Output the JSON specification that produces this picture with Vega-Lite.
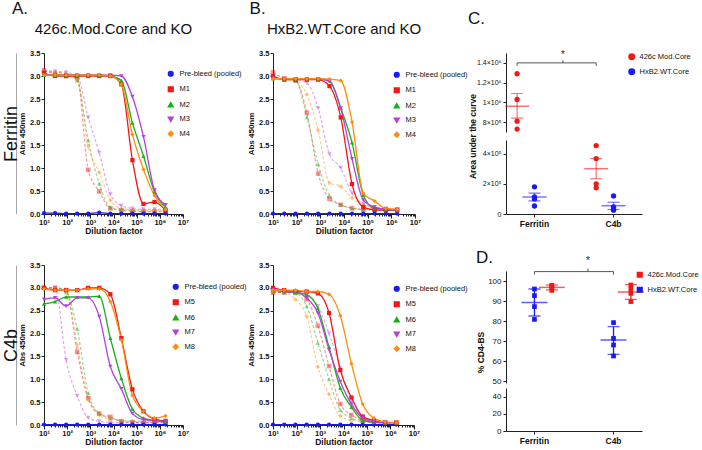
{
"$schema": "https://vega.github.io/schema/vega-lite/v6.json",
"padding": {"left": 2, "top": 0, "right": 0, "bottom": 0},
"background": "white",
"config": {
 "font": "Liberation Sans",
 "view": {"stroke": null},
 "axis": {"grid": false, "domainColor": "#222", "tickColor": "#222", "labelColor": "#111", "titleColor": "#111"},
 "title": {"fontWeight": "normal", "color": "#111", "font": "Liberation Sans"},
 "legend": {"labelColor": "#111", "labelFont": "Liberation Sans"}
},
"datasets": {
"curves": [
{"p":"AF","s":"P","k":0,"d":10,"v":0.02},{"p":"AF","s":"P","k":0,"d":30,"v":0.02},{"p":"AF","s":"P","k":0,"d":90,"v":0.01},{"p":"AF","s":"P","k":0,"d":270,"v":0.01},{"p":"AF","s":"P","k":0,"d":810,"v":0.01},{"p":"AF","s":"P","k":0,"d":2430,"v":0.03},{"p":"AF","s":"P","k":0,"d":7290,"v":0.01},{"p":"AF","s":"P","k":0,"d":21870,"v":0.01},{"p":"AF","s":"P","k":0,"d":65610,"v":0.01},{"p":"AF","s":"P","k":0,"d":196830,"v":0.01},{"p":"AF","s":"P","k":0,"d":590490,"v":0.01},{"p":"AF","s":"P","k":0,"d":1771470,"v":0.01},
{"p":"AF","s":"M1","k":0,"d":10,"v":3.07},{"p":"AF","s":"M1","k":0,"d":30,"v":3.0},{"p":"AF","s":"M1","k":0,"d":90,"v":3.0},{"p":"AF","s":"M1","k":0,"d":270,"v":3.0},{"p":"AF","s":"M1","k":0,"d":810,"v":3.0},{"p":"AF","s":"M1","k":0,"d":2430,"v":3.0},{"p":"AF","s":"M1","k":0,"d":7290,"v":3.0},{"p":"AF","s":"M1","k":0,"d":21870,"v":2.82},{"p":"AF","s":"M1","k":0,"d":65610,"v":1.17},{"p":"AF","s":"M1","k":0,"d":196830,"v":0.22},{"p":"AF","s":"M1","k":0,"d":590490,"v":0.26},{"p":"AF","s":"M1","k":0,"d":1771470,"v":0.08},
{"p":"AF","s":"M2","k":0,"d":10,"v":3.02},{"p":"AF","s":"M2","k":0,"d":30,"v":3.02},{"p":"AF","s":"M2","k":0,"d":90,"v":3.02},{"p":"AF","s":"M2","k":0,"d":270,"v":3.02},{"p":"AF","s":"M2","k":0,"d":810,"v":3.02},{"p":"AF","s":"M2","k":0,"d":2430,"v":3.02},{"p":"AF","s":"M2","k":0,"d":7290,"v":3.0},{"p":"AF","s":"M2","k":0,"d":21870,"v":2.9},{"p":"AF","s":"M2","k":0,"d":65610,"v":1.98},{"p":"AF","s":"M2","k":0,"d":196830,"v":1.26},{"p":"AF","s":"M2","k":0,"d":590490,"v":0.48},{"p":"AF","s":"M2","k":0,"d":1771470,"v":0.15},
{"p":"AF","s":"M3","k":0,"d":10,"v":3.02},{"p":"AF","s":"M3","k":0,"d":30,"v":3.02},{"p":"AF","s":"M3","k":0,"d":90,"v":3.02},{"p":"AF","s":"M3","k":0,"d":270,"v":3.02},{"p":"AF","s":"M3","k":0,"d":810,"v":3.02},{"p":"AF","s":"M3","k":0,"d":2430,"v":3.02},{"p":"AF","s":"M3","k":0,"d":7290,"v":3.02},{"p":"AF","s":"M3","k":0,"d":21870,"v":3.0},{"p":"AF","s":"M3","k":0,"d":65610,"v":2.55},{"p":"AF","s":"M3","k":0,"d":196830,"v":1.68},{"p":"AF","s":"M3","k":0,"d":590490,"v":0.52},{"p":"AF","s":"M3","k":0,"d":1771470,"v":0.2},
{"p":"AF","s":"M4","k":0,"d":10,"v":3.02},{"p":"AF","s":"M4","k":0,"d":30,"v":3.02},{"p":"AF","s":"M4","k":0,"d":90,"v":3.02},{"p":"AF","s":"M4","k":0,"d":270,"v":3.02},{"p":"AF","s":"M4","k":0,"d":810,"v":3.02},{"p":"AF","s":"M4","k":0,"d":2430,"v":3.02},{"p":"AF","s":"M4","k":0,"d":7290,"v":3.0},{"p":"AF","s":"M4","k":0,"d":21870,"v":2.82},{"p":"AF","s":"M4","k":0,"d":65610,"v":1.73},{"p":"AF","s":"M4","k":0,"d":196830,"v":0.97},{"p":"AF","s":"M4","k":0,"d":590490,"v":0.4},{"p":"AF","s":"M4","k":0,"d":1771470,"v":0.1},
{"p":"AF","s":"M1","k":1,"d":10,"v":3.12},{"p":"AF","s":"M1","k":1,"d":30,"v":3.05},{"p":"AF","s":"M1","k":1,"d":90,"v":3.0},{"p":"AF","s":"M1","k":1,"d":270,"v":2.95},{"p":"AF","s":"M1","k":1,"d":810,"v":0.96},{"p":"AF","s":"M1","k":1,"d":2430,"v":0.49},{"p":"AF","s":"M1","k":1,"d":7290,"v":0.12},{"p":"AF","s":"M1","k":1,"d":21870,"v":0.08},{"p":"AF","s":"M1","k":1,"d":65610,"v":0.06},{"p":"AF","s":"M1","k":1,"d":196830,"v":0.05},{"p":"AF","s":"M1","k":1,"d":590490,"v":0.05},{"p":"AF","s":"M1","k":1,"d":1771470,"v":0.05},
{"p":"AF","s":"M2","k":1,"d":10,"v":3.1},{"p":"AF","s":"M2","k":1,"d":30,"v":3.08},{"p":"AF","s":"M2","k":1,"d":90,"v":3.05},{"p":"AF","s":"M2","k":1,"d":270,"v":2.9},{"p":"AF","s":"M2","k":1,"d":810,"v":1.6},{"p":"AF","s":"M2","k":1,"d":2430,"v":0.66},{"p":"AF","s":"M2","k":1,"d":7290,"v":0.15},{"p":"AF","s":"M2","k":1,"d":21870,"v":0.1},{"p":"AF","s":"M2","k":1,"d":65610,"v":0.08},{"p":"AF","s":"M2","k":1,"d":196830,"v":0.06},{"p":"AF","s":"M2","k":1,"d":590490,"v":0.06},{"p":"AF","s":"M2","k":1,"d":1771470,"v":0.06},
{"p":"AF","s":"M3","k":1,"d":10,"v":3.12},{"p":"AF","s":"M3","k":1,"d":30,"v":3.1},{"p":"AF","s":"M3","k":1,"d":90,"v":3.08},{"p":"AF","s":"M3","k":1,"d":270,"v":3.0},{"p":"AF","s":"M3","k":1,"d":810,"v":2.1},{"p":"AF","s":"M3","k":1,"d":2430,"v":1.33},{"p":"AF","s":"M3","k":1,"d":7290,"v":0.43},{"p":"AF","s":"M3","k":1,"d":21870,"v":0.18},{"p":"AF","s":"M3","k":1,"d":65610,"v":0.12},{"p":"AF","s":"M3","k":1,"d":196830,"v":0.1},{"p":"AF","s":"M3","k":1,"d":590490,"v":0.1},{"p":"AF","s":"M3","k":1,"d":1771470,"v":0.1},
{"p":"AF","s":"M4","k":1,"d":10,"v":3.1},{"p":"AF","s":"M4","k":1,"d":30,"v":3.08},{"p":"AF","s":"M4","k":1,"d":90,"v":3.05},{"p":"AF","s":"M4","k":1,"d":270,"v":2.95},{"p":"AF","s":"M4","k":1,"d":810,"v":1.47},{"p":"AF","s":"M4","k":1,"d":2430,"v":0.9},{"p":"AF","s":"M4","k":1,"d":7290,"v":0.3},{"p":"AF","s":"M4","k":1,"d":21870,"v":0.12},{"p":"AF","s":"M4","k":1,"d":65610,"v":0.1},{"p":"AF","s":"M4","k":1,"d":196830,"v":0.08},{"p":"AF","s":"M4","k":1,"d":590490,"v":0.08},{"p":"AF","s":"M4","k":1,"d":1771470,"v":0.08},
{"p":"BF","s":"P","k":0,"d":10,"v":0.01},{"p":"BF","s":"P","k":0,"d":30,"v":0.01},{"p":"BF","s":"P","k":0,"d":90,"v":0.01},{"p":"BF","s":"P","k":0,"d":270,"v":0.01},{"p":"BF","s":"P","k":0,"d":810,"v":0.01},{"p":"BF","s":"P","k":0,"d":2430,"v":0.01},{"p":"BF","s":"P","k":0,"d":7290,"v":0.01},{"p":"BF","s":"P","k":0,"d":21870,"v":0.01},{"p":"BF","s":"P","k":0,"d":65610,"v":0.01},{"p":"BF","s":"P","k":0,"d":196830,"v":0.01},{"p":"BF","s":"P","k":0,"d":590490,"v":0.01},{"p":"BF","s":"P","k":0,"d":1771470,"v":0.01},
{"p":"BF","s":"M1","k":0,"d":10,"v":3.0},{"p":"BF","s":"M1","k":0,"d":30,"v":2.92},{"p":"BF","s":"M1","k":0,"d":90,"v":2.92},{"p":"BF","s":"M1","k":0,"d":270,"v":2.92},{"p":"BF","s":"M1","k":0,"d":810,"v":2.92},{"p":"BF","s":"M1","k":0,"d":2430,"v":2.78},{"p":"BF","s":"M1","k":0,"d":7290,"v":2.1},{"p":"BF","s":"M1","k":0,"d":21870,"v":0.65},{"p":"BF","s":"M1","k":0,"d":65610,"v":0.15},{"p":"BF","s":"M1","k":0,"d":196830,"v":0.09},{"p":"BF","s":"M1","k":0,"d":590490,"v":0.08},{"p":"BF","s":"M1","k":0,"d":1771470,"v":0.08},
{"p":"BF","s":"M2","k":0,"d":10,"v":2.95},{"p":"BF","s":"M2","k":0,"d":30,"v":2.94},{"p":"BF","s":"M2","k":0,"d":90,"v":2.94},{"p":"BF","s":"M2","k":0,"d":270,"v":2.94},{"p":"BF","s":"M2","k":0,"d":810,"v":2.94},{"p":"BF","s":"M2","k":0,"d":2430,"v":2.9},{"p":"BF","s":"M2","k":0,"d":7290,"v":2.3},{"p":"BF","s":"M2","k":0,"d":21870,"v":1.55},{"p":"BF","s":"M2","k":0,"d":65610,"v":0.41},{"p":"BF","s":"M2","k":0,"d":196830,"v":0.12},{"p":"BF","s":"M2","k":0,"d":590490,"v":0.1},{"p":"BF","s":"M2","k":0,"d":1771470,"v":0.08},
{"p":"BF","s":"M3","k":0,"d":10,"v":2.95},{"p":"BF","s":"M3","k":0,"d":30,"v":2.94},{"p":"BF","s":"M3","k":0,"d":90,"v":2.94},{"p":"BF","s":"M3","k":0,"d":270,"v":2.94},{"p":"BF","s":"M3","k":0,"d":810,"v":2.94},{"p":"BF","s":"M3","k":0,"d":2430,"v":2.88},{"p":"BF","s":"M3","k":0,"d":7290,"v":2.3},{"p":"BF","s":"M3","k":0,"d":21870,"v":1.2},{"p":"BF","s":"M3","k":0,"d":65610,"v":0.3},{"p":"BF","s":"M3","k":0,"d":196830,"v":0.15},{"p":"BF","s":"M3","k":0,"d":590490,"v":0.1},{"p":"BF","s":"M3","k":0,"d":1771470,"v":0.08},
{"p":"BF","s":"M4","k":0,"d":10,"v":2.94},{"p":"BF","s":"M4","k":0,"d":30,"v":2.94},{"p":"BF","s":"M4","k":0,"d":90,"v":2.94},{"p":"BF","s":"M4","k":0,"d":270,"v":2.94},{"p":"BF","s":"M4","k":0,"d":810,"v":2.94},{"p":"BF","s":"M4","k":0,"d":2430,"v":2.93},{"p":"BF","s":"M4","k":0,"d":7290,"v":2.9},{"p":"BF","s":"M4","k":0,"d":21870,"v":2.0},{"p":"BF","s":"M4","k":0,"d":65610,"v":0.45},{"p":"BF","s":"M4","k":0,"d":196830,"v":0.28},{"p":"BF","s":"M4","k":0,"d":590490,"v":0.12},{"p":"BF","s":"M4","k":0,"d":1771470,"v":0.1},
{"p":"BF","s":"M1","k":1,"d":10,"v":3.08},{"p":"BF","s":"M1","k":1,"d":30,"v":2.95},{"p":"BF","s":"M1","k":1,"d":90,"v":2.9},{"p":"BF","s":"M1","k":1,"d":270,"v":2.2},{"p":"BF","s":"M1","k":1,"d":810,"v":0.88},{"p":"BF","s":"M1","k":1,"d":2430,"v":0.33},{"p":"BF","s":"M1","k":1,"d":7290,"v":0.2},{"p":"BF","s":"M1","k":1,"d":21870,"v":0.13},{"p":"BF","s":"M1","k":1,"d":65610,"v":0.1},{"p":"BF","s":"M1","k":1,"d":196830,"v":0.1},{"p":"BF","s":"M1","k":1,"d":590490,"v":0.1},{"p":"BF","s":"M1","k":1,"d":1771470,"v":0.1},
{"p":"BF","s":"M2","k":1,"d":10,"v":2.95},{"p":"BF","s":"M2","k":1,"d":30,"v":2.93},{"p":"BF","s":"M2","k":1,"d":90,"v":2.9},{"p":"BF","s":"M2","k":1,"d":270,"v":2.1},{"p":"BF","s":"M2","k":1,"d":810,"v":1.08},{"p":"BF","s":"M2","k":1,"d":2430,"v":0.4},{"p":"BF","s":"M2","k":1,"d":7290,"v":0.2},{"p":"BF","s":"M2","k":1,"d":21870,"v":0.12},{"p":"BF","s":"M2","k":1,"d":65610,"v":0.1},{"p":"BF","s":"M2","k":1,"d":196830,"v":0.08},{"p":"BF","s":"M2","k":1,"d":590490,"v":0.08},{"p":"BF","s":"M2","k":1,"d":1771470,"v":0.08},
{"p":"BF","s":"M3","k":1,"d":10,"v":2.95},{"p":"BF","s":"M3","k":1,"d":30,"v":2.93},{"p":"BF","s":"M3","k":1,"d":90,"v":2.92},{"p":"BF","s":"M3","k":1,"d":270,"v":2.85},{"p":"BF","s":"M3","k":1,"d":810,"v":2.3},{"p":"BF","s":"M3","k":1,"d":2430,"v":1.3},{"p":"BF","s":"M3","k":1,"d":7290,"v":1.0},{"p":"BF","s":"M3","k":1,"d":21870,"v":0.45},{"p":"BF","s":"M3","k":1,"d":65610,"v":0.22},{"p":"BF","s":"M3","k":1,"d":196830,"v":0.15},{"p":"BF","s":"M3","k":1,"d":590490,"v":0.12},{"p":"BF","s":"M3","k":1,"d":1771470,"v":0.1},
{"p":"BF","s":"M4","k":1,"d":10,"v":2.95},{"p":"BF","s":"M4","k":1,"d":30,"v":2.93},{"p":"BF","s":"M4","k":1,"d":90,"v":2.9},{"p":"BF","s":"M4","k":1,"d":270,"v":2.6},{"p":"BF","s":"M4","k":1,"d":810,"v":1.82},{"p":"BF","s":"M4","k":1,"d":2430,"v":0.67},{"p":"BF","s":"M4","k":1,"d":7290,"v":0.6},{"p":"BF","s":"M4","k":1,"d":21870,"v":0.35},{"p":"BF","s":"M4","k":1,"d":65610,"v":0.2},{"p":"BF","s":"M4","k":1,"d":196830,"v":0.12},{"p":"BF","s":"M4","k":1,"d":590490,"v":0.1},{"p":"BF","s":"M4","k":1,"d":1771470,"v":0.1},
{"p":"AC","s":"P","k":0,"d":10,"v":0.01},{"p":"AC","s":"P","k":0,"d":30,"v":0.01},{"p":"AC","s":"P","k":0,"d":90,"v":0.01},{"p":"AC","s":"P","k":0,"d":270,"v":0.01},{"p":"AC","s":"P","k":0,"d":810,"v":0.01},{"p":"AC","s":"P","k":0,"d":2430,"v":0.01},{"p":"AC","s":"P","k":0,"d":7290,"v":0.01},{"p":"AC","s":"P","k":0,"d":21870,"v":0.01},{"p":"AC","s":"P","k":0,"d":65610,"v":0.01},{"p":"AC","s":"P","k":0,"d":196830,"v":0.01},{"p":"AC","s":"P","k":0,"d":590490,"v":0.01},{"p":"AC","s":"P","k":0,"d":1771470,"v":0.01},
{"p":"AC","s":"M5","k":0,"d":10,"v":3.0},{"p":"AC","s":"M5","k":0,"d":30,"v":2.95},{"p":"AC","s":"M5","k":0,"d":90,"v":2.95},{"p":"AC","s":"M5","k":0,"d":270,"v":2.95},{"p":"AC","s":"M5","k":0,"d":810,"v":3.0},{"p":"AC","s":"M5","k":0,"d":2430,"v":3.0},{"p":"AC","s":"M5","k":0,"d":7290,"v":2.86},{"p":"AC","s":"M5","k":0,"d":21870,"v":1.9},{"p":"AC","s":"M5","k":0,"d":65610,"v":0.78},{"p":"AC","s":"M5","k":0,"d":196830,"v":0.3},{"p":"AC","s":"M5","k":0,"d":590490,"v":0.13},{"p":"AC","s":"M5","k":0,"d":1771470,"v":0.09},
{"p":"AC","s":"M6","k":0,"d":10,"v":2.65},{"p":"AC","s":"M6","k":0,"d":30,"v":2.7},{"p":"AC","s":"M6","k":0,"d":90,"v":2.8},{"p":"AC","s":"M6","k":0,"d":270,"v":2.8},{"p":"AC","s":"M6","k":0,"d":810,"v":2.8},{"p":"AC","s":"M6","k":0,"d":2430,"v":2.82},{"p":"AC","s":"M6","k":0,"d":7290,"v":1.9},{"p":"AC","s":"M6","k":0,"d":21870,"v":1.02},{"p":"AC","s":"M6","k":0,"d":65610,"v":0.35},{"p":"AC","s":"M6","k":0,"d":196830,"v":0.15},{"p":"AC","s":"M6","k":0,"d":590490,"v":0.1},{"p":"AC","s":"M6","k":0,"d":1771470,"v":0.07},
{"p":"AC","s":"M7","k":0,"d":10,"v":2.75},{"p":"AC","s":"M7","k":0,"d":30,"v":2.78},{"p":"AC","s":"M7","k":0,"d":90,"v":2.6},{"p":"AC","s":"M7","k":0,"d":270,"v":2.78},{"p":"AC","s":"M7","k":0,"d":810,"v":2.78},{"p":"AC","s":"M7","k":0,"d":2430,"v":2.37},{"p":"AC","s":"M7","k":0,"d":7290,"v":1.28},{"p":"AC","s":"M7","k":0,"d":21870,"v":0.79},{"p":"AC","s":"M7","k":0,"d":65610,"v":0.25},{"p":"AC","s":"M7","k":0,"d":196830,"v":0.12},{"p":"AC","s":"M7","k":0,"d":590490,"v":0.1},{"p":"AC","s":"M7","k":0,"d":1771470,"v":0.08},
{"p":"AC","s":"M8","k":0,"d":10,"v":2.98},{"p":"AC","s":"M8","k":0,"d":30,"v":2.95},{"p":"AC","s":"M8","k":0,"d":90,"v":2.95},{"p":"AC","s":"M8","k":0,"d":270,"v":2.95},{"p":"AC","s":"M8","k":0,"d":810,"v":2.98},{"p":"AC","s":"M8","k":0,"d":2430,"v":2.98},{"p":"AC","s":"M8","k":0,"d":7290,"v":2.7},{"p":"AC","s":"M8","k":0,"d":21870,"v":1.86},{"p":"AC","s":"M8","k":0,"d":65610,"v":0.65},{"p":"AC","s":"M8","k":0,"d":196830,"v":0.3},{"p":"AC","s":"M8","k":0,"d":590490,"v":0.15},{"p":"AC","s":"M8","k":0,"d":1771470,"v":0.2},
{"p":"AC","s":"M5","k":1,"d":10,"v":3.0},{"p":"AC","s":"M5","k":1,"d":30,"v":3.0},{"p":"AC","s":"M5","k":1,"d":90,"v":2.95},{"p":"AC","s":"M5","k":1,"d":270,"v":1.6},{"p":"AC","s":"M5","k":1,"d":810,"v":0.59},{"p":"AC","s":"M5","k":1,"d":2430,"v":0.25},{"p":"AC","s":"M5","k":1,"d":7290,"v":0.18},{"p":"AC","s":"M5","k":1,"d":21870,"v":0.08},{"p":"AC","s":"M5","k":1,"d":65610,"v":0.06},{"p":"AC","s":"M5","k":1,"d":196830,"v":0.05},{"p":"AC","s":"M5","k":1,"d":590490,"v":0.05},{"p":"AC","s":"M5","k":1,"d":1771470,"v":0.05},
{"p":"AC","s":"M6","k":1,"d":10,"v":3.0},{"p":"AC","s":"M6","k":1,"d":30,"v":3.0},{"p":"AC","s":"M6","k":1,"d":90,"v":2.9},{"p":"AC","s":"M6","k":1,"d":270,"v":2.1},{"p":"AC","s":"M6","k":1,"d":810,"v":0.7},{"p":"AC","s":"M6","k":1,"d":2430,"v":0.25},{"p":"AC","s":"M6","k":1,"d":7290,"v":0.15},{"p":"AC","s":"M6","k":1,"d":21870,"v":0.1},{"p":"AC","s":"M6","k":1,"d":65610,"v":0.08},{"p":"AC","s":"M6","k":1,"d":196830,"v":0.08},{"p":"AC","s":"M6","k":1,"d":590490,"v":0.08},{"p":"AC","s":"M6","k":1,"d":1771470,"v":0.08},
{"p":"AC","s":"M7","k":1,"d":10,"v":3.0},{"p":"AC","s":"M7","k":1,"d":30,"v":3.0},{"p":"AC","s":"M7","k":1,"d":90,"v":1.42},{"p":"AC","s":"M7","k":1,"d":270,"v":0.64},{"p":"AC","s":"M7","k":1,"d":810,"v":0.16},{"p":"AC","s":"M7","k":1,"d":2430,"v":0.08},{"p":"AC","s":"M7","k":1,"d":7290,"v":0.05},{"p":"AC","s":"M7","k":1,"d":21870,"v":0.05},{"p":"AC","s":"M7","k":1,"d":65610,"v":0.05},{"p":"AC","s":"M7","k":1,"d":196830,"v":0.05},{"p":"AC","s":"M7","k":1,"d":590490,"v":0.05},{"p":"AC","s":"M7","k":1,"d":1771470,"v":0.05},
{"p":"AC","s":"M8","k":1,"d":10,"v":3.0},{"p":"AC","s":"M8","k":1,"d":30,"v":3.0},{"p":"AC","s":"M8","k":1,"d":90,"v":2.95},{"p":"AC","s":"M8","k":1,"d":270,"v":1.75},{"p":"AC","s":"M8","k":1,"d":810,"v":0.55},{"p":"AC","s":"M8","k":1,"d":2430,"v":0.22},{"p":"AC","s":"M8","k":1,"d":7290,"v":0.12},{"p":"AC","s":"M8","k":1,"d":21870,"v":0.1},{"p":"AC","s":"M8","k":1,"d":65610,"v":0.08},{"p":"AC","s":"M8","k":1,"d":196830,"v":0.07},{"p":"AC","s":"M8","k":1,"d":590490,"v":0.07},{"p":"AC","s":"M8","k":1,"d":1771470,"v":0.07},
{"p":"BC","s":"P","k":0,"d":10,"v":0.01},{"p":"BC","s":"P","k":0,"d":30,"v":0.01},{"p":"BC","s":"P","k":0,"d":90,"v":0.01},{"p":"BC","s":"P","k":0,"d":270,"v":0.01},{"p":"BC","s":"P","k":0,"d":810,"v":0.01},{"p":"BC","s":"P","k":0,"d":2430,"v":0.01},{"p":"BC","s":"P","k":0,"d":7290,"v":0.01},{"p":"BC","s":"P","k":0,"d":21870,"v":0.01},{"p":"BC","s":"P","k":0,"d":65610,"v":0.01},{"p":"BC","s":"P","k":0,"d":196830,"v":0.01},{"p":"BC","s":"P","k":0,"d":590490,"v":0.01},{"p":"BC","s":"P","k":0,"d":1771470,"v":0.01},
{"p":"BC","s":"M5","k":0,"d":10,"v":3.0},{"p":"BC","s":"M5","k":0,"d":30,"v":2.95},{"p":"BC","s":"M5","k":0,"d":90,"v":2.92},{"p":"BC","s":"M5","k":0,"d":270,"v":2.92},{"p":"BC","s":"M5","k":0,"d":810,"v":2.88},{"p":"BC","s":"M5","k":0,"d":2430,"v":2.45},{"p":"BC","s":"M5","k":0,"d":7290,"v":1.2},{"p":"BC","s":"M5","k":0,"d":21870,"v":0.6},{"p":"BC","s":"M5","k":0,"d":65610,"v":0.18},{"p":"BC","s":"M5","k":0,"d":196830,"v":0.1},{"p":"BC","s":"M5","k":0,"d":590490,"v":0.05},{"p":"BC","s":"M5","k":0,"d":1771470,"v":0.05},
{"p":"BC","s":"M6","k":0,"d":10,"v":2.95},{"p":"BC","s":"M6","k":0,"d":30,"v":2.92},{"p":"BC","s":"M6","k":0,"d":90,"v":2.9},{"p":"BC","s":"M6","k":0,"d":270,"v":2.85},{"p":"BC","s":"M6","k":0,"d":810,"v":2.55},{"p":"BC","s":"M6","k":0,"d":2430,"v":1.7},{"p":"BC","s":"M6","k":0,"d":7290,"v":0.81},{"p":"BC","s":"M6","k":0,"d":21870,"v":0.39},{"p":"BC","s":"M6","k":0,"d":65610,"v":0.1},{"p":"BC","s":"M6","k":0,"d":196830,"v":0.06},{"p":"BC","s":"M6","k":0,"d":590490,"v":0.05},{"p":"BC","s":"M6","k":0,"d":1771470,"v":0.05},
{"p":"BC","s":"M7","k":0,"d":10,"v":2.95},{"p":"BC","s":"M7","k":0,"d":30,"v":2.92},{"p":"BC","s":"M7","k":0,"d":90,"v":2.9},{"p":"BC","s":"M7","k":0,"d":270,"v":2.78},{"p":"BC","s":"M7","k":0,"d":810,"v":2.45},{"p":"BC","s":"M7","k":0,"d":2430,"v":1.65},{"p":"BC","s":"M7","k":0,"d":7290,"v":0.95},{"p":"BC","s":"M7","k":0,"d":21870,"v":0.45},{"p":"BC","s":"M7","k":0,"d":65610,"v":0.15},{"p":"BC","s":"M7","k":0,"d":196830,"v":0.07},{"p":"BC","s":"M7","k":0,"d":590490,"v":0.05},{"p":"BC","s":"M7","k":0,"d":1771470,"v":0.05},
{"p":"BC","s":"M8","k":0,"d":10,"v":2.95},{"p":"BC","s":"M8","k":0,"d":30,"v":2.95},{"p":"BC","s":"M8","k":0,"d":90,"v":2.95},{"p":"BC","s":"M8","k":0,"d":270,"v":2.92},{"p":"BC","s":"M8","k":0,"d":810,"v":2.92},{"p":"BC","s":"M8","k":0,"d":2430,"v":2.86},{"p":"BC","s":"M8","k":0,"d":7290,"v":2.39},{"p":"BC","s":"M8","k":0,"d":21870,"v":1.34},{"p":"BC","s":"M8","k":0,"d":65610,"v":0.46},{"p":"BC","s":"M8","k":0,"d":196830,"v":0.15},{"p":"BC","s":"M8","k":0,"d":590490,"v":0.07},{"p":"BC","s":"M8","k":0,"d":1771470,"v":0.05},
{"p":"BC","s":"M5","k":1,"d":10,"v":2.9},{"p":"BC","s":"M5","k":1,"d":30,"v":2.9},{"p":"BC","s":"M5","k":1,"d":90,"v":2.9},{"p":"BC","s":"M5","k":1,"d":270,"v":2.75},{"p":"BC","s":"M5","k":1,"d":810,"v":2.17},{"p":"BC","s":"M5","k":1,"d":2430,"v":1.29},{"p":"BC","s":"M5","k":1,"d":7290,"v":0.46},{"p":"BC","s":"M5","k":1,"d":21870,"v":0.22},{"p":"BC","s":"M5","k":1,"d":65610,"v":0.1},{"p":"BC","s":"M5","k":1,"d":196830,"v":0.07},{"p":"BC","s":"M5","k":1,"d":590490,"v":0.05},{"p":"BC","s":"M5","k":1,"d":1771470,"v":0.05},
{"p":"BC","s":"M6","k":1,"d":10,"v":2.9},{"p":"BC","s":"M6","k":1,"d":30,"v":2.9},{"p":"BC","s":"M6","k":1,"d":90,"v":2.88},{"p":"BC","s":"M6","k":1,"d":270,"v":2.6},{"p":"BC","s":"M6","k":1,"d":810,"v":1.8},{"p":"BC","s":"M6","k":1,"d":2430,"v":1.0},{"p":"BC","s":"M6","k":1,"d":7290,"v":0.33},{"p":"BC","s":"M6","k":1,"d":21870,"v":0.15},{"p":"BC","s":"M6","k":1,"d":65610,"v":0.08},{"p":"BC","s":"M6","k":1,"d":196830,"v":0.05},{"p":"BC","s":"M6","k":1,"d":590490,"v":0.05},{"p":"BC","s":"M6","k":1,"d":1771470,"v":0.05},
{"p":"BC","s":"M7","k":1,"d":10,"v":2.9},{"p":"BC","s":"M7","k":1,"d":30,"v":2.9},{"p":"BC","s":"M7","k":1,"d":90,"v":2.9},{"p":"BC","s":"M7","k":1,"d":270,"v":2.85},{"p":"BC","s":"M7","k":1,"d":810,"v":2.6},{"p":"BC","s":"M7","k":1,"d":2430,"v":2.0},{"p":"BC","s":"M7","k":1,"d":7290,"v":1.25},{"p":"BC","s":"M7","k":1,"d":21870,"v":0.5},{"p":"BC","s":"M7","k":1,"d":65610,"v":0.2},{"p":"BC","s":"M7","k":1,"d":196830,"v":0.1},{"p":"BC","s":"M7","k":1,"d":590490,"v":0.07},{"p":"BC","s":"M7","k":1,"d":1771470,"v":0.05},
{"p":"BC","s":"M8","k":1,"d":10,"v":2.9},{"p":"BC","s":"M8","k":1,"d":30,"v":2.9},{"p":"BC","s":"M8","k":1,"d":90,"v":2.75},{"p":"BC","s":"M8","k":1,"d":270,"v":2.38},{"p":"BC","s":"M8","k":1,"d":810,"v":1.27},{"p":"BC","s":"M8","k":1,"d":2430,"v":0.67},{"p":"BC","s":"M8","k":1,"d":7290,"v":0.2},{"p":"BC","s":"M8","k":1,"d":21870,"v":0.1},{"p":"BC","s":"M8","k":1,"d":65610,"v":0.07},{"p":"BC","s":"M8","k":1,"d":196830,"v":0.05},{"p":"BC","s":"M8","k":1,"d":590490,"v":0.05},{"p":"BC","s":"M8","k":1,"d":1771470,"v":0.05}
],
"auc": [
{"cat":"Ferritin","grp":"426c Mod.Core","v":1290000},{"cat":"Ferritin","grp":"426c Mod.Core","v":1030000},{"cat":"Ferritin","grp":"426c Mod.Core","v":810000},{"cat":"Ferritin","grp":"426c Mod.Core","v":730000},
{"cat":"C4b","grp":"426c Mod.Core","v":453000},{"cat":"C4b","grp":"426c Mod.Core","v":367000},{"cat":"C4b","grp":"426c Mod.Core","v":200000},{"cat":"C4b","grp":"426c Mod.Core","v":173000},
{"cat":"Ferritin","grp":"HxB2.WT.Core","v":180000},{"cat":"Ferritin","grp":"HxB2.WT.Core","v":113000},{"cat":"Ferritin","grp":"HxB2.WT.Core","v":100000},{"cat":"Ferritin","grp":"HxB2.WT.Core","v":53000},
{"cat":"C4b","grp":"HxB2.WT.Core","v":120000},{"cat":"C4b","grp":"HxB2.WT.Core","v":47000},{"cat":"C4b","grp":"HxB2.WT.Core","v":27000},{"cat":"C4b","grp":"HxB2.WT.Core","v":27000}
],
"aucs": [
{"cat":"Ferritin","grp":"426c Mod.Core","m":960000,"lo":840000,"hi":1090000},
{"cat":"C4b","grp":"426c Mod.Core","m":300000,"lo":233000,"hi":367000},
{"cat":"Ferritin","grp":"HxB2.WT.Core","m":113000,"lo":87000,"hi":138000},
{"cat":"C4b","grp":"HxB2.WT.Core","m":55000,"lo":30000,"hi":78000}
],
"cd4": [
{"cat":"Ferritin","grp":"426c.Mod.Core","v":97.8},{"cat":"Ferritin","grp":"426c.Mod.Core","v":97.5},{"cat":"Ferritin","grp":"426c.Mod.Core","v":96.5},{"cat":"Ferritin","grp":"426c.Mod.Core","v":95.3},
{"cat":"Ferritin","grp":"HxB2.WT.Core","v":96.0},{"cat":"Ferritin","grp":"HxB2.WT.Core","v":92.7},{"cat":"Ferritin","grp":"HxB2.WT.Core","v":87.2},{"cat":"Ferritin","grp":"HxB2.WT.Core","v":80.8},
{"cat":"C4b","grp":"426c.Mod.Core","v":98.0},{"cat":"C4b","grp":"426c.Mod.Core","v":96.0},{"cat":"C4b","grp":"426c.Mod.Core","v":93.8},{"cat":"C4b","grp":"426c.Mod.Core","v":89.7},
{"cat":"C4b","grp":"HxB2.WT.Core","v":79.2},{"cat":"C4b","grp":"HxB2.WT.Core","v":71.3},{"cat":"C4b","grp":"HxB2.WT.Core","v":68.0},{"cat":"C4b","grp":"HxB2.WT.Core","v":62.5}
],
"cd4s": [
{"cat":"Ferritin","grp":"426c.Mod.Core","m":96.8,"lo":95.6,"hi":98.0},
{"cat":"Ferritin","grp":"HxB2.WT.Core","m":89.2,"lo":82.5,"hi":96.0},
{"cat":"C4b","grp":"426c.Mod.Core","m":94.5,"lo":90.8,"hi":98.2},
{"cat":"C4b","grp":"HxB2.WT.Core","m":70.5,"lo":63.3,"hi":77.2}
]
},
"hconcat": [
{
 "title": {"text": "A.", "anchor": "start", "fontSize": 17, "dx": 10, "offset": 4},
 "spacing": 26,
 "resolve": {"scale": {"color": "independent", "shape": "independent"}},
 "vconcat": [
  {
   "width": 139, "height": 161,
   "title": {"text": "426c.Mod.Core and KO", "fontSize": 15, "frame": "group", "anchor": "middle", "offset": 12},
   "resolve": {"scale": {"y": "independent"}, "axis": {"y": "independent"}},
   "layer": [
    {
     "data": {"name": "curves"},
     "transform": [{"filter": "datum.p == 'AF'"}],
     "encoding": {
      "x": {"field": "d", "type": "quantitative", "scale": {"type": "log", "domain": [10, 10000000]}, "axis": {"title": "Dilution factor", "values": [10,20,30,40,50,60,70,80,90,100,200,300,400,500,600,700,800,900,1000,2000,3000,4000,5000,6000,7000,8000,9000,10000,20000,30000,40000,50000,60000,70000,80000,90000,100000,200000,300000,400000,500000,600000,700000,800000,900000,1000000,2000000,3000000,4000000,5000000,6000000,7000000,8000000,9000000,10000000], "labelExpr": "datum.value == 10 ? '10¹' : datum.value == 100 ? '10²' : datum.value == 1000 ? '10³' : datum.value == 10000 ? '10⁴' : datum.value == 100000 ? '10⁵' : datum.value == 1000000 ? '10⁶' : datum.value == 10000000 ? '10⁷' : ''", "tickSize": {"condition": {"test": "indexof([10,100,1000,10000,100000,1000000,10000000], datum.value) >= 0", "value": 4}, "value": 2}, "labelFontWeight": "bold", "labelFontSize": 7.5, "titleFontWeight": "bold", "titleFontSize": 8.5, "labelPadding": 0, "titlePadding": 1, "labelFlush": false, "labelOverlap": false}},
      "y": {"field": "v", "type": "quantitative", "scale": {"domain": [0, 3.5]}, "axis": {"title": "Abs 450nm", "values": [0,0.5,1,1.5,2,2.5,3,3.5], "format": ".1f", "labelFontWeight": "bold", "labelFontSize": 7.5, "titleFontWeight": "bold", "titleFontSize": 8, "tickSize": 3, "labelPadding": 1, "titlePadding": 3}},
      "color": {"field": "s", "type": "nominal", "scale": {"domain": ["P","M1","M2","M3","M4"], "range": ["#1a1af0","#f01818","#18b018","#b440e0","#ff8c10"]}, "legend": {"title": null, "orient": "none", "legendX": 123, "legendY": 17, "labelExpr": "datum.label == 'P' ? 'Pre-bleed (pooled)' : datum.label", "labelFontSize": 7.5, "symbolSize": 22, "symbolOpacity": 1, "rowPadding": 3.5, "labelOffset": 5}}
     },
     "layer": [
      {"transform": [{"filter": "datum.k == 1"}], "mark": {"type": "line", "interpolate": "monotone", "strokeDash": [3,2], "strokeWidth": 1.2, "opacity": 0.45}},
      {"transform": [{"filter": "datum.k == 1"}], "mark": {"type": "point", "filled": true, "size": 22, "opacity": 0.45}, "encoding": {"shape": {"field": "s", "type": "nominal", "scale": {"domain": ["P","M1","M2","M3","M4"], "range": ["circle","square","triangle-up","triangle-down","diamond"]}, "legend": {"title": null, "orient": "none", "legendX": 123, "legendY": 17, "labelExpr": "datum.label == 'P' ? 'Pre-bleed (pooled)' : datum.label", "labelFontSize": 7.5, "symbolSize": 22, "symbolOpacity": 1, "rowPadding": 3.5, "labelOffset": 5}}}},
      {"transform": [{"filter": "datum.k == 0"}], "mark": {"type": "line", "interpolate": "monotone", "strokeWidth": 1.3}},
      {"transform": [{"filter": "datum.k == 0"}], "mark": {"type": "point", "filled": true, "size": 18, "opacity": 1}, "encoding": {"shape": {"field": "s", "type": "nominal", "scale": {"domain": ["P","M1","M2","M3","M4"], "range": ["circle","square","triangle-up","triangle-down","diamond"]}}}}
     ]
    },
    {
     "data": {"values": [{"z": 0}]},
     "mark": {"type": "rule", "opacity": 0},
     "encoding": {"y": {"field": "z", "type": "quantitative", "scale": {"domain": [0, 1]}, "axis": {"orient": "left", "title": "Ferritin", "labels": false, "ticks": false, "grid": false, "domainColor": "#aaaaaa", "titleFontSize": 18, "titleFontWeight": "normal", "titleColor": "#111", "titlePadding": -4, "offset": 28}}}
    }
   ]
  },
  {
   "width": 139, "height": 160,
   "resolve": {"scale": {"y": "independent"}, "axis": {"y": "independent"}},
   "layer": [
    {
     "data": {"name": "curves"},
     "transform": [{"filter": "datum.p == 'AC'"}],
     "encoding": {
      "x": {"field": "d", "type": "quantitative", "scale": {"type": "log", "domain": [10, 10000000]}, "axis": {"title": "Dilution factor", "values": [10,20,30,40,50,60,70,80,90,100,200,300,400,500,600,700,800,900,1000,2000,3000,4000,5000,6000,7000,8000,9000,10000,20000,30000,40000,50000,60000,70000,80000,90000,100000,200000,300000,400000,500000,600000,700000,800000,900000,1000000,2000000,3000000,4000000,5000000,6000000,7000000,8000000,9000000,10000000], "labelExpr": "datum.value == 10 ? '10¹' : datum.value == 100 ? '10²' : datum.value == 1000 ? '10³' : datum.value == 10000 ? '10⁴' : datum.value == 100000 ? '10⁵' : datum.value == 1000000 ? '10⁶' : datum.value == 10000000 ? '10⁷' : ''", "tickSize": {"condition": {"test": "indexof([10,100,1000,10000,100000,1000000,10000000], datum.value) >= 0", "value": 4}, "value": 2}, "labelFontWeight": "bold", "labelFontSize": 7.5, "titleFontWeight": "bold", "titleFontSize": 8.5, "labelPadding": 0, "titlePadding": 1, "labelFlush": false, "labelOverlap": false}},
      "y": {"field": "v", "type": "quantitative", "scale": {"domain": [0, 3.5]}, "axis": {"title": "Abs 450nm", "values": [0,0.5,1,1.5,2,2.5,3,3.5], "format": ".1f", "labelFontWeight": "bold", "labelFontSize": 7.5, "titleFontWeight": "bold", "titleFontSize": 8, "tickSize": 3, "labelPadding": 1, "titlePadding": 3}},
      "color": {"field": "s", "type": "nominal", "scale": {"domain": ["P","M5","M6","M7","M8"], "range": ["#1a1af0","#f01818","#18b018","#b440e0","#ff8c10"]}, "legend": {"title": null, "orient": "none", "legendX": 128, "legendY": 18, "labelExpr": "datum.label == 'P' ? 'Pre-bleed (pooled)' : datum.label", "labelFontSize": 7.5, "symbolSize": 22, "symbolOpacity": 1, "rowPadding": 3.5, "labelOffset": 5}}
     },
     "layer": [
      {"transform": [{"filter": "datum.k == 1"}], "mark": {"type": "line", "interpolate": "monotone", "strokeDash": [3,2], "strokeWidth": 1.2, "opacity": 0.45}},
      {"transform": [{"filter": "datum.k == 1"}], "mark": {"type": "point", "filled": true, "size": 22, "opacity": 0.45}, "encoding": {"shape": {"field": "s", "type": "nominal", "scale": {"domain": ["P","M5","M6","M7","M8"], "range": ["circle","square","triangle-up","triangle-down","diamond"]}, "legend": {"title": null, "orient": "none", "legendX": 128, "legendY": 18, "labelExpr": "datum.label == 'P' ? 'Pre-bleed (pooled)' : datum.label", "labelFontSize": 7.5, "symbolSize": 22, "symbolOpacity": 1, "rowPadding": 3.5, "labelOffset": 5}}}},
      {"transform": [{"filter": "datum.k == 0"}], "mark": {"type": "line", "interpolate": "monotone", "strokeWidth": 1.3}},
      {"transform": [{"filter": "datum.k == 0"}], "mark": {"type": "point", "filled": true, "size": 18, "opacity": 1}, "encoding": {"shape": {"field": "s", "type": "nominal", "scale": {"domain": ["P","M5","M6","M7","M8"], "range": ["circle","square","triangle-up","triangle-down","diamond"]}}}}
     ]
    },
    {
     "data": {"values": [{"z": 0}]},
     "mark": {"type": "rule", "opacity": 0},
     "encoding": {"y": {"field": "z", "type": "quantitative", "scale": {"domain": [0, 1]}, "axis": {"orient": "left", "title": "C4b", "labels": false, "ticks": false, "grid": false, "domainColor": "#aaaaaa", "titleFontSize": 18, "titleFontWeight": "normal", "titleColor": "#111", "titlePadding": -4, "offset": 28}}}
    }
   ]
  }
 ]
},
{
 "title": {"text": "B.", "anchor": "start", "fontSize": 17, "dx": 2, "offset": 4},
 "spacing": 26,
 "resolve": {"scale": {"color": "independent", "shape": "independent"}},
 "vconcat": [
  {
   "width": 142, "height": 161,
   "title": {"text": "HxB2.WT.Core and KO", "fontSize": 15, "frame": "group", "anchor": "middle", "offset": 12},
   "data": {"name": "curves"},
   "transform": [{"filter": "datum.p == 'BF'"}],
   "encoding": {
    "x": {"field": "d", "type": "quantitative", "scale": {"type": "log", "domain": [10, 10000000]}, "axis": {"title": "Dilution factor", "values": [10,20,30,40,50,60,70,80,90,100,200,300,400,500,600,700,800,900,1000,2000,3000,4000,5000,6000,7000,8000,9000,10000,20000,30000,40000,50000,60000,70000,80000,90000,100000,200000,300000,400000,500000,600000,700000,800000,900000,1000000,2000000,3000000,4000000,5000000,6000000,7000000,8000000,9000000,10000000], "labelExpr": "datum.value == 10 ? '10¹' : datum.value == 100 ? '10²' : datum.value == 1000 ? '10³' : datum.value == 10000 ? '10⁴' : datum.value == 100000 ? '10⁵' : datum.value == 1000000 ? '10⁶' : datum.value == 10000000 ? '10⁷' : ''", "tickSize": {"condition": {"test": "indexof([10,100,1000,10000,100000,1000000,10000000], datum.value) >= 0", "value": 4}, "value": 2}, "labelFontWeight": "bold", "labelFontSize": 7.5, "titleFontWeight": "bold", "titleFontSize": 8.5, "labelPadding": 0, "titlePadding": 1, "labelFlush": false, "labelOverlap": false}},
    "y": {"field": "v", "type": "quantitative", "scale": {"domain": [0, 3.5]}, "axis": {"title": "Abs 450nm", "values": [0,0.5,1,1.5,2,2.5,3,3.5], "format": ".1f", "labelFontWeight": "bold", "labelFontSize": 7.5, "titleFontWeight": "bold", "titleFontSize": 8, "tickSize": 3, "labelPadding": 1, "titlePadding": 3}},
    "color": {"field": "s", "type": "nominal", "scale": {"domain": ["P","M1","M2","M3","M4"], "range": ["#1a1af0","#f01818","#18b018","#b440e0","#ff8c10"]}, "legend": {"title": null, "orient": "none", "legendX": 120, "legendY": 18, "labelExpr": "datum.label == 'P' ? 'Pre-bleed (pooled)' : datum.label", "labelFontSize": 7.5, "symbolSize": 22, "symbolOpacity": 1, "rowPadding": 3.5, "labelOffset": 5}}
   },
   "layer": [
    {"transform": [{"filter": "datum.k == 1"}], "mark": {"type": "line", "interpolate": "monotone", "strokeDash": [3,2], "strokeWidth": 1.2, "opacity": 0.45}},
    {"transform": [{"filter": "datum.k == 1"}], "mark": {"type": "point", "filled": true, "size": 22, "opacity": 0.45}, "encoding": {"shape": {"field": "s", "type": "nominal", "scale": {"domain": ["P","M1","M2","M3","M4"], "range": ["circle","square","triangle-up","triangle-down","diamond"]}, "legend": {"title": null, "orient": "none", "legendX": 120, "legendY": 18, "labelExpr": "datum.label == 'P' ? 'Pre-bleed (pooled)' : datum.label", "labelFontSize": 7.5, "symbolSize": 22, "symbolOpacity": 1, "rowPadding": 3.5, "labelOffset": 5}}}},
    {"transform": [{"filter": "datum.k == 0"}], "mark": {"type": "line", "interpolate": "monotone", "strokeWidth": 1.3}},
    {"transform": [{"filter": "datum.k == 0"}], "mark": {"type": "point", "filled": true, "size": 18, "opacity": 1}, "encoding": {"shape": {"field": "s", "type": "nominal", "scale": {"domain": ["P","M1","M2","M3","M4"], "range": ["circle","square","triangle-up","triangle-down","diamond"]}}}}
   ]
  },
  {
   "width": 141, "height": 160,
   "data": {"name": "curves"},
   "transform": [{"filter": "datum.p == 'BC'"}],
   "encoding": {
    "x": {"field": "d", "type": "quantitative", "scale": {"type": "log", "domain": [10, 10000000]}, "axis": {"title": "Dilution factor", "values": [10,20,30,40,50,60,70,80,90,100,200,300,400,500,600,700,800,900,1000,2000,3000,4000,5000,6000,7000,8000,9000,10000,20000,30000,40000,50000,60000,70000,80000,90000,100000,200000,300000,400000,500000,600000,700000,800000,900000,1000000,2000000,3000000,4000000,5000000,6000000,7000000,8000000,9000000,10000000], "labelExpr": "datum.value == 10 ? '10¹' : datum.value == 100 ? '10²' : datum.value == 1000 ? '10³' : datum.value == 10000 ? '10⁴' : datum.value == 100000 ? '10⁵' : datum.value == 1000000 ? '10⁶' : datum.value == 10000000 ? '10⁷' : ''", "tickSize": {"condition": {"test": "indexof([10,100,1000,10000,100000,1000000,10000000], datum.value) >= 0", "value": 4}, "value": 2}, "labelFontWeight": "bold", "labelFontSize": 7.5, "titleFontWeight": "bold", "titleFontSize": 8.5, "labelPadding": 0, "titlePadding": 1, "labelFlush": false, "labelOverlap": false}},
    "y": {"field": "v", "type": "quantitative", "scale": {"domain": [0, 3.5]}, "axis": {"title": "Abs 450nm", "values": [0,0.5,1,1.5,2,2.5,3,3.5], "format": ".1f", "labelFontWeight": "bold", "labelFontSize": 7.5, "titleFontWeight": "bold", "titleFontSize": 8, "tickSize": 3, "labelPadding": 1, "titlePadding": 3}},
    "color": {"field": "s", "type": "nominal", "scale": {"domain": ["P","M5","M6","M7","M8"], "range": ["#1a1af0","#f01818","#18b018","#b440e0","#ff8c10"]}, "legend": {"title": null, "orient": "none", "legendX": 120, "legendY": 20, "labelExpr": "datum.label == 'P' ? 'Pre-bleed (pooled)' : datum.label", "labelFontSize": 7.5, "symbolSize": 22, "symbolOpacity": 1, "rowPadding": 3.5, "labelOffset": 5}}
   },
   "layer": [
    {"transform": [{"filter": "datum.k == 1"}], "mark": {"type": "line", "interpolate": "monotone", "strokeDash": [3,2], "strokeWidth": 1.2, "opacity": 0.45}},
    {"transform": [{"filter": "datum.k == 1"}], "mark": {"type": "point", "filled": true, "size": 22, "opacity": 0.45}, "encoding": {"shape": {"field": "s", "type": "nominal", "scale": {"domain": ["P","M5","M6","M7","M8"], "range": ["circle","square","triangle-up","triangle-down","diamond"]}, "legend": {"title": null, "orient": "none", "legendX": 120, "legendY": 20, "labelExpr": "datum.label == 'P' ? 'Pre-bleed (pooled)' : datum.label", "labelFontSize": 7.5, "symbolSize": 22, "symbolOpacity": 1, "rowPadding": 3.5, "labelOffset": 5}}}},
    {"transform": [{"filter": "datum.k == 0"}], "mark": {"type": "line", "interpolate": "monotone", "strokeWidth": 1.3}},
    {"transform": [{"filter": "datum.k == 0"}], "mark": {"type": "point", "filled": true, "size": 18, "opacity": 1}, "encoding": {"shape": {"field": "s", "type": "nominal", "scale": {"domain": ["P","M5","M6","M7","M8"], "range": ["circle","square","triangle-up","triangle-down","diamond"]}}}}
   ]
  }
 ]
},
{
 "spacing": 21,
 "resolve": {"scale": {"color": "independent"}},
 "vconcat": [
  {
   "title": {"text": "C.", "anchor": "start", "fontSize": 17, "offset": 21},
   "spacing": 8,
   "bounds": "flush",
   "vconcat": [
    {
     "width": 136, "height": 79,
     "layer": [
      {"data": {"name": "auc"}, "transform": [{"filter": "datum.v >= 700000"}], "mark": {"type": "circle", "size": 28, "opacity": 1},
       "encoding": {
        "x": {"field": "cat", "type": "nominal", "scale": {"domain": ["Ferritin","C4b"], "paddingInner": 0.28, "paddingOuter": 0}, "axis": null},
        "xOffset": {"field": "grp", "type": "nominal", "scale": {"domain": ["426c Mod.Core","HxB2.WT.Core"], "paddingOuter": 0.14, "paddingInner": 0}},
        "y": {"field": "v", "type": "quantitative", "title": "Area under the curve", "scale": {"domain": [700000, 1500000], "nice": false, "zero": false}, "axis": {"values": [800000,1000000,1200000,1400000], "tickCount": 20, "labelExpr": "datum.value == 800000 ? '8×10⁵' : datum.value == 1000000 ? '1×10⁶' : datum.value == 1200000 ? '1.2×10⁶' : '1.4×10⁶'", "labelFontSize": 7, "labelOverlap": false, "tickSize": 3, "labelPadding": 2, "titleFontWeight": "bold", "titleFontSize": 8.5, "titleY": 83, "titleX": -29}},
        "color": {"field": "grp", "type": "nominal", "scale": {"domain": ["426c Mod.Core","HxB2.WT.Core"], "range": ["#f01818","#1a1af0"]}, "legend": {"title": null, "orient": "right", "offset": -14, "labelFontSize": 7.5, "symbolSize": 30, "rowPadding": 3, "symbolType": "circle"}}
       }},
      {"data": {"name": "aucs"}, "transform": [{"filter": "datum.m >= 700000"}], "mark": {"type": "rule", "opacity": 0.6, "strokeWidth": 1.2},
       "encoding": {
        "x": {"field": "cat", "type": "nominal", "scale": {"domain": ["Ferritin","C4b"], "paddingInner": 0.28, "paddingOuter": 0}, "axis": null},
        "xOffset": {"field": "grp", "type": "nominal", "scale": {"domain": ["426c Mod.Core","HxB2.WT.Core"], "paddingOuter": 0.14, "paddingInner": 0}},
        "y": {"field": "lo", "type": "quantitative", "title": "Area under the curve"}, "y2": {"field": "hi"},
        "color": {"field": "grp", "type": "nominal", "scale": {"domain": ["426c Mod.Core","HxB2.WT.Core"], "range": ["#f01818","#1a1af0"]}}
       }},
      {"data": {"name": "aucs"}, "transform": [{"filter": "datum.m >= 700000"}], "mark": {"type": "tick", "size": 24, "thickness": 1.5, "opacity": 0.6},
       "encoding": {
        "x": {"field": "cat", "type": "nominal", "scale": {"domain": ["Ferritin","C4b"], "paddingInner": 0.28, "paddingOuter": 0}, "axis": null},
        "xOffset": {"field": "grp", "type": "nominal", "scale": {"domain": ["426c Mod.Core","HxB2.WT.Core"], "paddingOuter": 0.14, "paddingInner": 0}},
        "y": {"field": "m", "type": "quantitative", "title": "Area under the curve"},
        "color": {"field": "grp", "type": "nominal", "scale": {"domain": ["426c Mod.Core","HxB2.WT.Core"], "range": ["#f01818","#1a1af0"]}}
       }},
      {"data": {"name": "aucs"}, "transform": [{"filter": "datum.m >= 700000"}], "mark": {"type": "tick", "size": 12, "thickness": 1.2, "opacity": 0.6},
       "encoding": {
        "x": {"field": "cat", "type": "nominal", "scale": {"domain": ["Ferritin","C4b"], "paddingInner": 0.28, "paddingOuter": 0}, "axis": null},
        "xOffset": {"field": "grp", "type": "nominal", "scale": {"domain": ["426c Mod.Core","HxB2.WT.Core"], "paddingOuter": 0.14, "paddingInner": 0}},
        "y": {"field": "lo", "type": "quantitative", "title": "Area under the curve"},
        "color": {"field": "grp", "type": "nominal", "scale": {"domain": ["426c Mod.Core","HxB2.WT.Core"], "range": ["#f01818","#1a1af0"]}}
       }},
      {"data": {"name": "aucs"}, "transform": [{"filter": "datum.m >= 700000"}], "mark": {"type": "tick", "size": 12, "thickness": 1.2, "opacity": 0.6},
       "encoding": {
        "x": {"field": "cat", "type": "nominal", "scale": {"domain": ["Ferritin","C4b"], "paddingInner": 0.28, "paddingOuter": 0}, "axis": null},
        "xOffset": {"field": "grp", "type": "nominal", "scale": {"domain": ["426c Mod.Core","HxB2.WT.Core"], "paddingOuter": 0.14, "paddingInner": 0}},
        "y": {"field": "hi", "type": "quantitative", "title": "Area under the curve"},
        "color": {"field": "grp", "type": "nominal", "scale": {"domain": ["426c Mod.Core","HxB2.WT.Core"], "range": ["#f01818","#1a1af0"]}}
       }},
      {"data": {"values": [{"cat":"Ferritin","grp":"426c Mod.Core","y":1370000,"o":0},{"cat":"Ferritin","grp":"426c Mod.Core","y":1400000,"o":1},{"cat":"C4b","grp":"426c Mod.Core","y":1400000,"o":2},{"cat":"C4b","grp":"426c Mod.Core","y":1370000,"o":3}]},
       "mark": {"type": "line", "color": "#555", "strokeWidth": 1},
       "encoding": {
        "x": {"field": "cat", "type": "nominal", "scale": {"domain": ["Ferritin","C4b"], "paddingInner": 0.28, "paddingOuter": 0}, "axis": null},
        "xOffset": {"field": "grp", "type": "nominal", "scale": {"domain": ["426c Mod.Core","HxB2.WT.Core"], "paddingOuter": 0.14, "paddingInner": 0}},
        "y": {"field": "y", "type": "quantitative", "title": "Area under the curve"},
        "order": {"field": "o", "type": "quantitative"}
       }},
      {"data": {"values": [{"cat":"Ferritin","y":1400000,"y2":1425000}]}, "mark": {"type": "rule", "color": "#555", "strokeWidth": 1},
       "encoding": {
        "x": {"field": "cat", "type": "nominal", "bandPosition": 1, "scale": {"domain": ["Ferritin","C4b"], "paddingInner": 0.28, "paddingOuter": 0}, "axis": null},
        "y": {"field": "y", "type": "quantitative", "title": "Area under the curve"}, "y2": {"field": "y2"}
       }},
      {"data": {"values": [{"cat":"Ferritin","y":1475000,"t":"*"}]}, "mark": {"type": "text", "fontSize": 11, "color": "#333"},
       "encoding": {
        "x": {"field": "cat", "type": "nominal", "bandPosition": 1, "scale": {"domain": ["Ferritin","C4b"], "paddingInner": 0.28, "paddingOuter": 0}, "axis": null},
        "y": {"field": "y", "type": "quantitative", "title": "Area under the curve"},
        "text": {"field": "t"}
       }}
     ]
    },
    {
     "width": 136, "height": 74,
     "layer": [
      {"data": {"name": "auc"}, "transform": [{"filter": "datum.v < 700000"}], "mark": {"type": "circle", "size": 28, "opacity": 1},
       "encoding": {
        "x": {"field": "cat", "type": "nominal", "scale": {"domain": ["Ferritin","C4b"], "paddingInner": 0.28, "paddingOuter": 0}, "axis": {"title": null, "labelAngle": 0, "labelFontWeight": "bold", "labelFontSize": 8.5, "tickSize": 3, "labelPadding": 2}},
        "xOffset": {"field": "grp", "type": "nominal", "scale": {"domain": ["426c Mod.Core","HxB2.WT.Core"], "paddingOuter": 0.14, "paddingInner": 0}},
        "y": {"field": "v", "type": "quantitative", "title": null, "scale": {"domain": [0, 490000], "nice": false}, "axis": {"values": [0,200000,400000], "tickCount": 20, "labelExpr": "datum.value == 0 ? '0' : datum.value == 200000 ? '2×10⁵' : '4×10⁵'", "labelFontSize": 7, "labelOverlap": false, "tickSize": 3, "labelPadding": 2}},
        "color": {"field": "grp", "type": "nominal", "scale": {"domain": ["426c Mod.Core","HxB2.WT.Core"], "range": ["#f01818","#1a1af0"]}}
       }},
      {"data": {"name": "aucs"}, "transform": [{"filter": "datum.m < 700000"}], "mark": {"type": "rule", "opacity": 0.6, "strokeWidth": 1.2},
       "encoding": {
        "x": {"field": "cat", "type": "nominal", "scale": {"domain": ["Ferritin","C4b"], "paddingInner": 0.28, "paddingOuter": 0}},
        "xOffset": {"field": "grp", "type": "nominal", "scale": {"domain": ["426c Mod.Core","HxB2.WT.Core"], "paddingOuter": 0.14, "paddingInner": 0}},
        "y": {"field": "lo", "type": "quantitative", "title": null}, "y2": {"field": "hi"},
        "color": {"field": "grp", "type": "nominal", "scale": {"domain": ["426c Mod.Core","HxB2.WT.Core"], "range": ["#f01818","#1a1af0"]}}
       }},
      {"data": {"name": "aucs"}, "transform": [{"filter": "datum.m < 700000"}], "mark": {"type": "tick", "size": 24, "thickness": 1.5, "opacity": 0.6},
       "encoding": {
        "x": {"field": "cat", "type": "nominal", "scale": {"domain": ["Ferritin","C4b"], "paddingInner": 0.28, "paddingOuter": 0}},
        "xOffset": {"field": "grp", "type": "nominal", "scale": {"domain": ["426c Mod.Core","HxB2.WT.Core"], "paddingOuter": 0.14, "paddingInner": 0}},
        "y": {"field": "m", "type": "quantitative", "title": null},
        "color": {"field": "grp", "type": "nominal", "scale": {"domain": ["426c Mod.Core","HxB2.WT.Core"], "range": ["#f01818","#1a1af0"]}}
       }},
      {"data": {"name": "aucs"}, "transform": [{"filter": "datum.m < 700000"}], "mark": {"type": "tick", "size": 12, "thickness": 1.2, "opacity": 0.6},
       "encoding": {
        "x": {"field": "cat", "type": "nominal", "scale": {"domain": ["Ferritin","C4b"], "paddingInner": 0.28, "paddingOuter": 0}},
        "xOffset": {"field": "grp", "type": "nominal", "scale": {"domain": ["426c Mod.Core","HxB2.WT.Core"], "paddingOuter": 0.14, "paddingInner": 0}},
        "y": {"field": "lo", "type": "quantitative", "title": null},
        "color": {"field": "grp", "type": "nominal", "scale": {"domain": ["426c Mod.Core","HxB2.WT.Core"], "range": ["#f01818","#1a1af0"]}}
       }},
      {"data": {"name": "aucs"}, "transform": [{"filter": "datum.m < 700000"}], "mark": {"type": "tick", "size": 12, "thickness": 1.2, "opacity": 0.6},
       "encoding": {
        "x": {"field": "cat", "type": "nominal", "scale": {"domain": ["Ferritin","C4b"], "paddingInner": 0.28, "paddingOuter": 0}},
        "xOffset": {"field": "grp", "type": "nominal", "scale": {"domain": ["426c Mod.Core","HxB2.WT.Core"], "paddingOuter": 0.14, "paddingInner": 0}},
        "y": {"field": "hi", "type": "quantitative", "title": null},
        "color": {"field": "grp", "type": "nominal", "scale": {"domain": ["426c Mod.Core","HxB2.WT.Core"], "range": ["#f01818","#1a1af0"]}}
       }}
     ]
    }
   ]
  },
  {
   "title": {"text": "D.", "anchor": "start", "fontSize": 17, "offset": -12},
   "spacing": 5,
   "bounds": "flush",
   "vconcat": [
    {
     "width": 136, "height": 112,
     "layer": [
      {"data": {"name": "cd4"}, "transform": [{"filter": "datum.v >= 49"}], "mark": {"type": "square", "size": 22, "opacity": 1},
       "encoding": {
        "x": {"field": "cat", "type": "nominal", "scale": {"domain": ["Ferritin","C4b"], "paddingInner": 0.28, "paddingOuter": 0}, "axis": null},
        "xOffset": {"field": "grp", "type": "nominal", "scale": {"domain": ["426c.Mod.Core","HxB2.WT.Core"], "paddingOuter": 0.14, "paddingInner": 0}},
        "y": {"field": "v", "type": "quantitative", "title": "% CD4-BS", "scale": {"domain": [49, 105], "nice": false, "zero": false}, "axis": {"values": [50,60,70,80,90,100], "tickCount": 20, "labelFontSize": 8, "labelOverlap": false, "tickSize": 3, "labelPadding": 2, "titleFontWeight": "bold", "titleFontSize": 8.5, "titleY": 81, "titleX": -21}},
        "color": {"field": "grp", "type": "nominal", "scale": {"domain": ["426c.Mod.Core","HxB2.WT.Core"], "range": ["#f01818","#1a1af0"]}, "legend": {"title": null, "orient": "right", "offset": -8, "labelFontSize": 7.5, "symbolSize": 22, "rowPadding": 3, "symbolType": "square"}}
       }},
      {"data": {"name": "cd4s"}, "mark": {"type": "rule", "strokeWidth": 1.3},
       "encoding": {
        "x": {"field": "cat", "type": "nominal", "scale": {"domain": ["Ferritin","C4b"], "paddingInner": 0.28, "paddingOuter": 0}, "axis": null},
        "xOffset": {"field": "grp", "type": "nominal", "scale": {"domain": ["426c.Mod.Core","HxB2.WT.Core"], "paddingOuter": 0.14, "paddingInner": 0}},
        "y": {"field": "lo", "type": "quantitative", "title": "% CD4-BS"}, "y2": {"field": "hi"},
        "color": {"field": "grp", "type": "nominal", "scale": {"domain": ["426c.Mod.Core","HxB2.WT.Core"], "range": ["#f01818","#1a1af0"]}}
       }},
      {"data": {"name": "cd4s"}, "mark": {"type": "tick", "size": 26, "thickness": 1.5},
       "encoding": {
        "x": {"field": "cat", "type": "nominal", "scale": {"domain": ["Ferritin","C4b"], "paddingInner": 0.28, "paddingOuter": 0}, "axis": null},
        "xOffset": {"field": "grp", "type": "nominal", "scale": {"domain": ["426c.Mod.Core","HxB2.WT.Core"], "paddingOuter": 0.14, "paddingInner": 0}},
        "y": {"field": "m", "type": "quantitative", "title": "% CD4-BS"},
        "color": {"field": "grp", "type": "nominal", "scale": {"domain": ["426c.Mod.Core","HxB2.WT.Core"], "range": ["#f01818","#1a1af0"]}}
       }},
      {"data": {"name": "cd4s"}, "mark": {"type": "tick", "size": 12, "thickness": 1.3},
       "encoding": {
        "x": {"field": "cat", "type": "nominal", "scale": {"domain": ["Ferritin","C4b"], "paddingInner": 0.28, "paddingOuter": 0}, "axis": null},
        "xOffset": {"field": "grp", "type": "nominal", "scale": {"domain": ["426c.Mod.Core","HxB2.WT.Core"], "paddingOuter": 0.14, "paddingInner": 0}},
        "y": {"field": "lo", "type": "quantitative", "title": "% CD4-BS"},
        "color": {"field": "grp", "type": "nominal", "scale": {"domain": ["426c.Mod.Core","HxB2.WT.Core"], "range": ["#f01818","#1a1af0"]}}
       }},
      {"data": {"name": "cd4s"}, "mark": {"type": "tick", "size": 12, "thickness": 1.3},
       "encoding": {
        "x": {"field": "cat", "type": "nominal", "scale": {"domain": ["Ferritin","C4b"], "paddingInner": 0.28, "paddingOuter": 0}, "axis": null},
        "xOffset": {"field": "grp", "type": "nominal", "scale": {"domain": ["426c.Mod.Core","HxB2.WT.Core"], "paddingOuter": 0.14, "paddingInner": 0}},
        "y": {"field": "hi", "type": "quantitative", "title": "% CD4-BS"},
        "color": {"field": "grp", "type": "nominal", "scale": {"domain": ["426c.Mod.Core","HxB2.WT.Core"], "range": ["#f01818","#1a1af0"]}}
       }},
      {"data": {"values": [{"cat":"Ferritin","grp":"HxB2.WT.Core","y":103.2,"o":0},{"cat":"Ferritin","grp":"HxB2.WT.Core","y":104.7,"o":1},{"cat":"C4b","grp":"HxB2.WT.Core","y":104.7,"o":2},{"cat":"C4b","grp":"HxB2.WT.Core","y":103.2,"o":3}]},
       "mark": {"type": "line", "color": "#555", "strokeWidth": 1},
       "encoding": {
        "x": {"field": "cat", "type": "nominal", "scale": {"domain": ["Ferritin","C4b"], "paddingInner": 0.28, "paddingOuter": 0}, "axis": null},
        "xOffset": {"field": "grp", "type": "nominal", "scale": {"domain": ["426c.Mod.Core","HxB2.WT.Core"], "paddingOuter": 0.14, "paddingInner": 0}},
        "y": {"field": "y", "type": "quantitative", "title": "% CD4-BS"},
        "order": {"field": "o", "type": "quantitative"}
       }},
      {"data": {"values": [{"cat":"C4b","y":104.7,"y2":106.2}]}, "mark": {"type": "rule", "color": "#555", "strokeWidth": 1},
       "encoding": {
        "x": {"field": "cat", "type": "nominal", "bandPosition": 0.05, "scale": {"domain": ["Ferritin","C4b"], "paddingInner": 0.28, "paddingOuter": 0}, "axis": null},
        "y": {"field": "y", "type": "quantitative", "title": "% CD4-BS"}, "y2": {"field": "y2"}
       }},
      {"data": {"values": [{"cat":"C4b","y":110,"t":"*"}]}, "mark": {"type": "text", "fontSize": 11, "color": "#333"},
       "encoding": {
        "x": {"field": "cat", "type": "nominal", "bandPosition": 0.05, "scale": {"domain": ["Ferritin","C4b"], "paddingInner": 0.28, "paddingOuter": 0}, "axis": null},
        "y": {"field": "y", "type": "quantitative", "title": "% CD4-BS"},
        "text": {"field": "t"}
       }}
     ]
    },
    {
     "width": 136, "height": 43,
     "data": {"name": "cd4"},
     "transform": [{"filter": "datum.v < 49"}],
     "mark": {"type": "square", "size": 22},
     "encoding": {
      "x": {"field": "cat", "type": "nominal", "scale": {"domain": ["Ferritin","C4b"], "paddingInner": 0.28, "paddingOuter": 0}, "axis": {"title": null, "labelAngle": 0, "labelFontWeight": "bold", "labelFontSize": 8.5, "tickSize": 3, "labelPadding": 2}},
      "xOffset": {"field": "grp", "type": "nominal", "scale": {"domain": ["426c.Mod.Core","HxB2.WT.Core"], "paddingOuter": 0.14, "paddingInner": 0}},
      "y": {"field": "v", "type": "quantitative", "title": null, "scale": {"domain": [0, 50], "nice": false}, "axis": {"values": [0,20,40], "tickCount": 20, "labelFontSize": 8, "labelOverlap": false, "tickSize": 3, "labelPadding": 2}},
      "color": {"field": "grp", "type": "nominal", "scale": {"domain": ["426c.Mod.Core","HxB2.WT.Core"], "range": ["#f01818","#1a1af0"]}}
     }
    }
   ]
  }
 ]
}
],
"spacing": 0,
"align": "each",
"resolve": {"scale": {"color": "independent", "shape": "independent"}}
}
